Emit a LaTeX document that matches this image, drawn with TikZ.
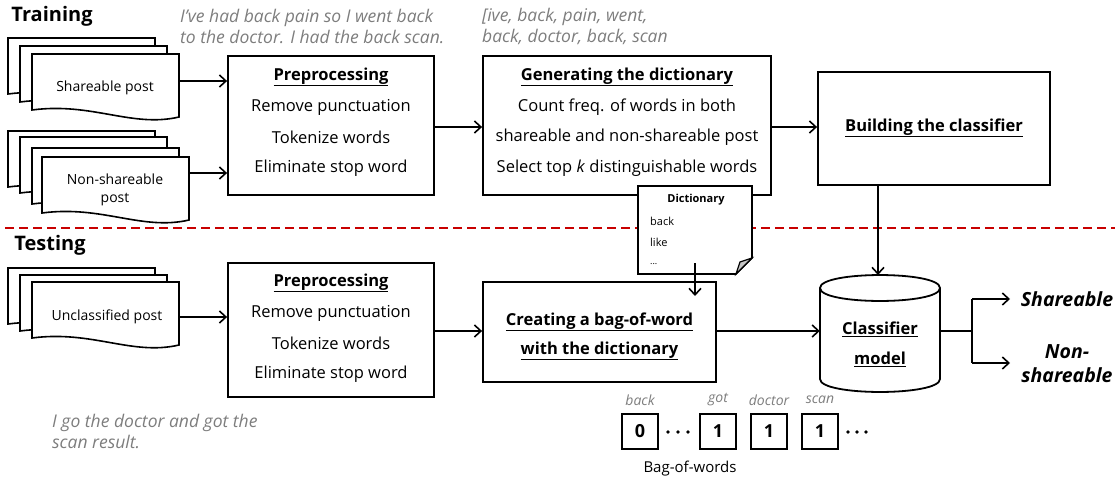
\documentclass[tikz,border=0pt]{standalone}
\usepackage{fontspec}
\setmainfont{Open Sans}
\usetikzlibrary{arrows.meta}
\definecolor{gtext}{RGB}{125,125,125}
\definecolor{dred}{RGB}{200,0,0}
\tikzset{
  box/.style={draw, line width=1.8pt, fill=white, inner sep=0pt},
  arr/.style={line width=1.6pt, -{Straight Barb[length=6.5pt,width=12pt,line width=1.6pt]}},
  conn/.style={line width=1.6pt},
  txt/.style={font=\fontsize{16.5}{20}\selectfont, inner sep=0pt},
  ttl/.style={font=\bfseries\fontsize{16.5}{20}\selectfont, inner sep=0pt},
  doctxt/.style={font=\fontsize{14}{18}\selectfont, align=center, inner sep=0pt},
  gray note/.style={font=\itshape\fontsize{17.5}{21}\selectfont, text=gtext, align=left, inner sep=0pt},
  head/.style={font=\bfseries\fontsize{20}{24}\selectfont, inner sep=0pt},
  docsheet/.pic={\draw[line width=1.6pt, fill=white] (0,0) -- (147,0) -- (147,63) .. controls (100,74) and (60,48) .. (0,56) -- cycle;},
  bagbox/.style={draw, line width=1.8pt, minimum width=36pt, minimum height=35pt, inner sep=0pt, font=\bfseries\fontsize{18}{20}\selectfont},
  baglbl/.style={font=\itshape\fontsize{14}{16}\selectfont, text=gtext, inner sep=0pt},
  outlbl/.style={font=\bfseries\itshape\fontsize{19.5}{24}\selectfont, inner sep=0pt, align=center},
}
\begin{document}
\begin{tikzpicture}[x=1pt,y=-1pt]
\useasboundingbox (0,0) rectangle (1120,485);

% headings
\node[head] (training) at (52,16) {Training};
\node[head] (testing) at (50,245) {Testing};

% red dashed separator
\coordinate (sepL) at (5,228);
\coordinate (sepR) at (1115,228);
\draw[dred, line width=2pt, dash pattern=on 9pt off 5pt] (sepL) -- (sepR);

% gray example texts
\node[gray note, anchor=west] (ex1) at (180,26.5) {I've had back pain so I went back\\to the doctor. I had the back scan.};
\node[gray note, anchor=west] (ex2) at (482,26.5) {[ive, back, pain, went,\\back, doctor, back, scan};
\node[gray note, anchor=west] (ex3) at (52,431) {I go the doctor and got the\\scan result.};

% shareable documents
\pic at (8,38) {docsheet};
\pic at (20,46) {docsheet};
\pic at (32,54) {docsheet};
\node[doctxt] (shtxt) at (105,88) {Shareable post};
\coordinate (shout) at (179,81);

% non-shareable documents
\pic at (8,131) {docsheet};
\pic at (20,137) {docsheet};
\pic at (32,148) {docsheet};
\pic at (42,157) {docsheet};
\node[doctxt] (nstxt) at (115,190) {Non-shareable\\post};
\coordinate (nsout) at (189,173);

% unclassified documents
\pic at (8,268) {docsheet};
\pic at (20,275) {docsheet};
\pic at (32,282) {docsheet};
\node[doctxt] (uctxt) at (107,317) {Unclassified post};
\coordinate (ucout) at (179,317);

% training preprocessing
\node[box, minimum width=206pt, minimum height=139pt] (pre1) at (331,125.5) {};
\node[ttl] (pre1t) at (331,77) {\underline{Preprocessing}};
\node[txt] (pre1a) at (331,107) {Remove punctuation};
\node[txt] (pre1b) at (331,137) {Tokenize words};
\node[txt] (pre1c) at (331,168) {Eliminate stop word};

% generating dictionary
\node[box, minimum width=288pt, minimum height=139pt] (gen) at (627,125.5) {};
\node[ttl] (gent) at (627,77) {\underline{Generating the dictionary}};
\node[txt] (gena) at (627,107) {Count freq. of words in both};
\node[txt] (genb) at (627,137) {shareable and non-shareable post};
\node[txt] (genc) at (627,168) {Select top \textit{k} distinguishable words};

% building classifier
\node[box, minimum width=232pt, minimum height=113pt] (build) at (934,128.5) {};
\node[ttl] (buildt) at (934,128) {\underline{Building the classifier}};

% testing preprocessing
\node[box, minimum width=206pt, minimum height=134pt] (pre2) at (331,330) {};
\node[ttl] (pre2t) at (331,283) {\underline{Preprocessing}};
\node[txt] (pre2a) at (331,313) {Remove punctuation};
\node[txt] (pre2b) at (331,343) {Tokenize words};
\node[txt] (pre2c) at (331,374) {Eliminate stop word};

% creating bag of words
\node[box, minimum width=233pt, minimum height=100pt] (create) at (599.5,332) {};
\node[ttl] (createa) at (599.5,322) {\underline{Creating a bag-of-word}};
\node[ttl] (createb) at (599.5,351) {\underline{with the dictionary}};

% dictionary note
\draw[line width=1.6pt, fill=white] (638,186) -- (752,186) -- (752,258) -- (736,274) -- (638,274) -- cycle;
\draw[line width=1.2pt, fill=gray!45] (752,258) -- (740,262) -- (736,274) -- cycle;
\node[font=\bfseries\fontsize{11}{13}\selectfont, inner sep=0pt] (dictt) at (696,200) {Dictionary};
\node[font=\fontsize{11}{13}\selectfont, inner sep=0pt, anchor=west] (dicta) at (650,221) {back};
\node[font=\fontsize{11}{13}\selectfont, inner sep=0pt, anchor=west] (dictb) at (650,242) {like};
\node[font=\fontsize{9}{11}\selectfont, inner sep=0pt, anchor=west] (dictc) at (650,264) {...};
\coordinate (noteout) at (695,263);
\coordinate (notein) at (695,296);

% classifier cylinder
\node[minimum width=120pt, minimum height=117pt, inner sep=0pt] (cyl) at (880,333.5) {};
\draw[line width=1.8pt, fill=white] (820,288) -- (820,379) .. controls (820,396.3) and (940,396.3) .. (940,379) -- (940,288) .. controls (940,270.7) and (820,270.7) .. (820,288) -- cycle;
\draw[line width=1.8pt] (820,288) .. controls (820,305.3) and (940,305.3) .. (940,288);
\node[ttl] (cyla) at (880,329) {\underline{Classifier}};
\node[ttl] (cylb) at (880,359) {\underline{model}};

% outputs
\coordinate (split) at (972,331);
\coordinate (splitT) at (972,299);
\coordinate (splitB) at (972,363);
\node[outlbl] (outS) at (1067,299) {Shareable};
\node[outlbl] (outN) at (1067,364) {Non-\\shareable};

% bag of words
\node[bagbox] (b0) at (640,431.5) {0};
\node[bagbox] (b1) at (718,431.5) {1};
\node[bagbox] (b2) at (769,431.5) {1};
\node[bagbox] (b3) at (820,431.5) {1};
\node[baglbl] (l0) at (640,400) {back};
\node[baglbl] (l1) at (718,400) {got};
\node[baglbl] (l2) at (769,400) {doctor};
\node[baglbl] (l3) at (820,400) {scan};
\foreach \dx in {668,678,688,848,857,866} \fill (\dx,432) circle[radius=1.9pt];
\node[font=\fontsize{15}{18}\selectfont, inner sep=0pt] (bagt) at (690,469) {Bag-of-words};

% connectors
\draw[arr] (shout) -- (pre1.west |- shout);
\draw[arr] (nsout) -- (pre1.west |- nsout);
\draw[arr] (ucout) -- (pre2.west |- ucout);
\draw[arr] (pre1.east |- 0,127) -- (gen.west |- 0,127);
\draw[arr] (gen.east |- 0,127) -- (build.west |- 0,127);
\draw[arr] (build.south -| 878,0) -- (878,275);
\draw[arr] (pre2.east |- 0,331) -- (create.west |- 0,331);
\draw[arr] (create.east |- 0,331) -- (cyl.west |- 0,331);
\draw[arr] (noteout) -- (notein);
\draw[conn] (cyl.east |- split) -- (split);
\draw[conn] (splitT) -- (splitB);
\draw[arr] (splitT) -- (1010,299);
\draw[arr] (splitB) -- (1010,363);
\end{tikzpicture}
\end{document}
